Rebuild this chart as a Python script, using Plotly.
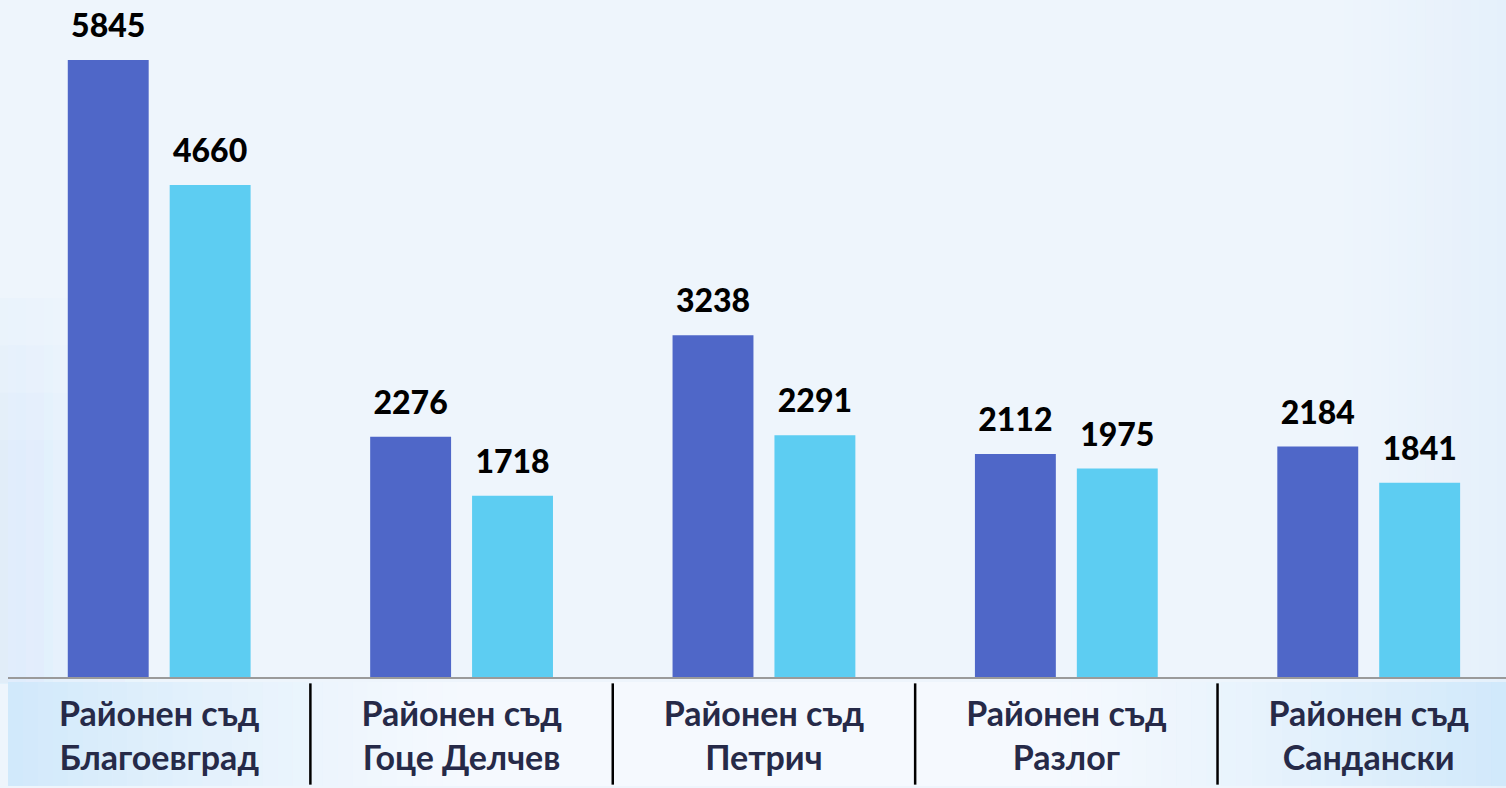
import plotly.graph_objects as go

categories = ["Районен съд<br>Благоевград", "Районен съд<br>Гоце Делчев",
              "Районен съд<br>Петрич", "Районен съд<br>Разлог", "Районен съд<br>Сандански"]
series_a = [5845, 2276, 3238, 2112, 2184]
series_b = [4660, 1718, 2291, 1975, 1841]

COL_A = "#4F67C8"
COL_B = "#5DCDF2"
FONT = "Lato"

fig = go.Figure()
fig.add_trace(go.Bar(x=categories, y=series_a, marker_color=COL_A, offsetgroup="a",
                     hoverinfo="skip", marker_line_width=0))
fig.add_trace(go.Bar(x=categories, y=series_b, marker_color=COL_B, offsetgroup="b",
                     hoverinfo="skip", marker_line_width=0))
for vals, grp in ((series_a, "a"), (series_b, "b")):
    fig.add_trace(go.Scatter(x=categories, y=vals, mode="markers+text", offsetgroup=grp,
                             text=[str(v) for v in vals], textposition="top center",
                             marker=dict(size=22, opacity=0), cliponaxis=False,
                             textfont=dict(family=FONT, size=32, color="#000000", weight=900),
                             hoverinfo="skip"))

shapes = []
# soft background gradient near left/right edges (non-overlapping strips, layered vertically)
n = 20
sw = 0.006
for i in range(n):
    a = 0.05 * (1 - i / n) ** 1.5
    for y1 in (0.35, 0.42, 0.49, 0.56):
        shapes.append(dict(type="rect", xref="paper", yref="paper", x0=-0.006 + i * sw, x1=-0.006 + (i + 1) * sw,
                           y0=-0.01, y1=y1, fillcolor="rgba(170,210,245,%.3f)" % a, line_width=0, layer="below"))
    shapes.append(dict(type="rect", xref="paper", yref="paper", x1=1.0 - i * sw, x0=1.0 - (i + 1) * sw,
                       y0=-0.2, y1=1.0, fillcolor="rgba(170,210,245,%.3f)" % (a * 2.5), line_width=0, layer="below"))
# category band
b0, b1 = -0.0074, -0.161
shapes.append(dict(type="rect", xref="paper", yref="paper", x0=0, x1=1, y0=b1, y1=b0,
                   fillcolor="#F5F9FE", line_width=0, layer="below"))
m = 30
bw = 0.01
for i in range(m):
    a = 0.6 * (1 - i / m) ** 1.3
    shapes.append(dict(type="rect", xref="paper", yref="paper", x0=i * bw, x1=(i + 1) * bw, y0=b1, y1=b0,
                       fillcolor="rgba(185,222,248,%.3f)" % a, line_width=0, layer="below"))
    shapes.append(dict(type="rect", xref="paper", yref="paper", x0=1 - (i + 1) * bw, x1=1 - i * bw, y0=b1, y1=b0,
                       fillcolor="rgba(185,222,248,%.3f)" % a, line_width=0, layer="below"))
for k in range(1, len(categories)):
    shapes.append(dict(type="line", xref="x", yref="paper", x0=k - 0.5, x1=k - 0.5,
                       y0=b0 - 0.002, y1=b1 + 0.002, line=dict(color="#000000", width=2.5)))

fig.update_layout(
    width=1506, height=788,
    margin=dict(l=8, r=0, t=0, b=111),
    paper_bgcolor="#EEF5FC", plot_bgcolor="rgba(0,0,0,0)",
    barmode="group", bargap=0.326, bargroupgap=0.206,
    scattermode="group", scattergap=0.326,
    showlegend=False,
    shapes=shapes,
    xaxis=dict(range=[-0.5, 4.454], showgrid=False, showline=True, linecolor="#9A9A9A", linewidth=2,
               ticks="", ticklabelstandoff=6,
               tickfont=dict(family=FONT, size=34, color="#262A48", weight="bold"),
               fixedrange=True),
    yaxis=dict(range=[0, 6413], visible=False, showgrid=False, fixedrange=True),
)
fig.write_html("out.html", config={"displayModeBar": False},
               post_script="document.body.style.margin='0';document.body.style.overflow='hidden';")
